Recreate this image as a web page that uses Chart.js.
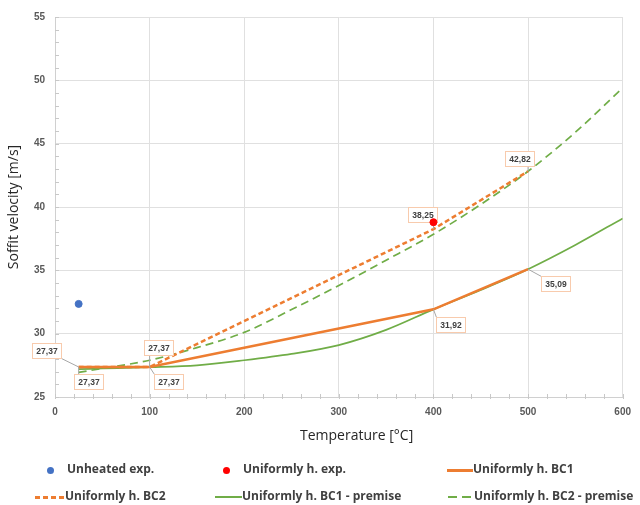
<!DOCTYPE html>
<html>
<head>
<meta charset="utf-8">
<script src="https://cdn.jsdelivr.net/npm/chart.js@4.4.1/dist/chart.umd.min.js"></script>
<style>
  html, body { margin: 0; padding: 0; background: #fff; }
  #wrap { position: relative; width: 640px; height: 505px; overflow: hidden; }
  .lg { position: absolute; font: 700 12px "Open Sans", Arial, sans-serif; color: #404040; white-space: nowrap; line-height: 14px; }
  .mk { position: absolute; }
  #xtitle { position: absolute; left: 300px; top: 426px; font: 14px "Open Sans", sans-serif; color: #262626; white-space: nowrap; line-height: 18px; }
</style>
</head>
<body>
<div id="wrap">
  <canvas id="myChart" width="640" height="505"></canvas>
  <div id="xtitle"></div>
</div>
<script>
// values
const unheatedT = [25];
const unheatedV = [32.35];
const uniformT = [400];
const uniformV = [38.8];
const bcT = [25, 100, 400, 500];
const bc1V = [27.37, 27.37, 31.92, 35.09];
const bc2V = [27.37, 27.37, 38.25, 42.82];
const premiseT = [25, 50, 100, 150, 200, 250, 300, 350, 400, 450, 500, 550, 600];
const bc1PremiseV = [27.2, 27.25, 27.35, 27.5, 27.9, 28.4, 29.1, 30.3, 31.92, 33.45, 35.09, 37.0, 39.1];
const bc2PremiseV = [26.95, 27.25, 27.9, 28.9, 30.1, 31.9, 33.8, 35.8, 37.85, 40.2, 42.82, 45.9, 49.4];
const seriesNames = ['Unheated exp.', 'Uniformly h. exp.', 'Uniformly h. BC1', 'Uniformly h. BC2',
                     'Uniformly h. BC1 - premise', 'Uniformly h. BC2 - premise'];
const xTicks = [0, 100, 200, 300, 400, 500, 600];
const yTicks = [25, 30, 35, 40, 45, 50, 55];
const xTitle = 'Temperature [°C]';
const yTitle = 'Soffit velocity [m/s]';

const ORANGE = '#ed7d31', GREEN = '#70ad47', BLUE = '#4472c4', RED = '#ff0000';

function pts(xs, ys) { return xs.map((x, i) => ({ x: x, y: ys[i] })); }

// value boxes: dataset index, point index, box offset from point
const valueBoxes = [
  { ds: 2, i: 0, dx: -32, dy: -16 },
  { ds: 3, i: 0, dx: 10, dy: 15 },
  { ds: 3, i: 1, dx: 9, dy: -19 },
  { ds: 2, i: 1, dx: 19, dy: 15 },
  { ds: 2, i: 2, dx: 17, dy: 15 },
  { ds: 2, i: 3, dx: 27, dy: 14 },
  { ds: 3, i: 2, dx: -11, dy: -15 },
  { ds: 3, i: 3, dx: -9, dy: -13 }
];

const minorTicks = {
  id: 'minorTicks',
  beforeDatasetsDraw(chart) {
    const ctx = chart.ctx, xs = chart.scales.x, ys = chart.scales.y;
    ctx.save();
    ctx.strokeStyle = '#c8c8c8';
    ctx.lineWidth = 1;
    ctx.beginPath();
    for (let v = ys.min; v <= ys.max; v += 1) {
      const y = Math.round(ys.getPixelForValue(v)) + 0.5;
      ctx.moveTo(xs.left, y); ctx.lineTo(xs.left + 4, y);
    }
    for (let t = xs.min; t <= xs.max; t += 20) {
      const x = Math.round(xs.getPixelForValue(t)) + 0.5;
      ctx.moveTo(x, ys.bottom - 3); ctx.lineTo(x, ys.bottom + 2);
    }
    ctx.stroke();
    ctx.restore();
  }
};

function drawBoxes(chart) {
  const ctx = chart.ctx, xs = chart.scales.x, ys = chart.scales.y;
  ctx.save();
  ctx.font = 'bold 8.5px "Liberation Sans", Arial, sans-serif';
  ctx.textAlign = 'center';
  ctx.textBaseline = 'middle';
  valueBoxes.forEach(b => {
    const p = chart.data.datasets[b.ds].data[b.i];
    const px = xs.getPixelForValue(p.x), py = ys.getPixelForValue(p.y);
    const cx = px + b.dx, cy = py + b.dy;
    const txt = p.y.toFixed(2).replace('.', ',');
    const w = Math.round(ctx.measureText(txt).width) + 8, h = 15;
    const l = Math.round(cx - w / 2) + 0.5, t = Math.round(cy - h / 2) + 0.5;
    const ex = Math.min(Math.max(px, l), l + w), ey = Math.min(Math.max(py, t), t + h);
    ctx.strokeStyle = '#a6a6a6';
    ctx.lineWidth = 1;
    ctx.beginPath(); ctx.moveTo(px, py); ctx.lineTo(ex, ey); ctx.stroke();
    ctx.fillStyle = '#fff';
    ctx.fillRect(l, t, w, h);
    ctx.strokeStyle = '#f8cbad';
    ctx.strokeRect(l, t, w, h);
    ctx.fillStyle = '#404040';
    ctx.fillText(txt, l + w / 2, t + h / 2 + 0.5);
  });
  ctx.restore();
}

// datasets are painted last-to-first, so boxes go in before the two scatter series
const boxPlugin = {
  id: 'valueBoxes',
  afterDatasetDraw(chart, args) {
    if (args.index === 2) drawBoxes(chart);
  }
};

const tickFont = { family: '"Liberation Sans", Arial, sans-serif', size: 10, weight: 'bold' };
const titleFont = { family: '"Open Sans", sans-serif', size: 14 };

const chart = new Chart(document.getElementById('myChart'), {
  type: 'scatter',
  data: {
    datasets: [
      { label: seriesNames[0], data: pts(unheatedT, unheatedV), backgroundColor: BLUE, borderColor: BLUE,
        pointRadius: 3.5, showLine: false },
      { label: seriesNames[1], data: pts(uniformT, uniformV), backgroundColor: RED, borderColor: RED,
        pointRadius: 3.5, showLine: false },
      { label: seriesNames[2], data: pts(bcT, bc1V), borderColor: ORANGE, backgroundColor: ORANGE,
        borderWidth: 2.5, pointRadius: 0, showLine: true, tension: 0 },
      { label: seriesNames[3], data: pts(bcT, bc2V), borderColor: ORANGE, backgroundColor: ORANGE,
        borderWidth: 2.5, borderDash: [5, 3], pointRadius: 0, showLine: true, tension: 0 },
      { label: seriesNames[4], data: pts(premiseT, bc1PremiseV), borderColor: GREEN, backgroundColor: GREEN,
        borderWidth: 1.7, pointRadius: 0, showLine: true, cubicInterpolationMode: 'monotone' },
      { label: seriesNames[5], data: pts(premiseT, bc2PremiseV), borderColor: GREEN, backgroundColor: GREEN,
        borderWidth: 1.7, borderDash: [8, 5], pointRadius: 0, showLine: true, cubicInterpolationMode: 'monotone' }
    ]
  },
  options: {
    responsive: false,
    animation: false,
    devicePixelRatio: 1,
    layout: { padding: { left: 0, right: 15, top: 17, bottom: 58 } },
    plugins: { legend: { display: false }, tooltip: { enabled: false } },
    scales: {
      x: {
        type: 'linear', min: 0, max: 600,
        afterFit: s => { s.height = 50; },
        afterBuildTicks: s => { s.ticks = xTicks.map(v => ({ value: v })); },
        ticks: { font: tickFont, color: '#595959', padding: 9, maxRotation: 0 },
        grid: { color: '#e0e0e0', drawTicks: false },
        border: { color: '#d0d0d0' }
      },
      y: {
        type: 'linear', min: 25, max: 55,
        afterFit: s => { s.width = 55; },
        afterBuildTicks: s => { s.ticks = yTicks.map(v => ({ value: v })); },
        ticks: { font: tickFont, color: '#595959', padding: 10 },
        grid: { color: '#e0e0e0', drawTicks: false },
        border: { color: '#d0d0d0' },
        title: { display: true, text: yTitle, font: titleFont, color: '#262626', padding: { top: 6, bottom: 0 } }
      }
    }
  },
  plugins: [minorTicks, boxPlugin]
});

// x title sits a bit right of centre in the original, so it is placed by hand
document.getElementById('xtitle').textContent = xTitle;

// legend laid out in three columns like the original
const wrap = document.getElementById('wrap');
const legendSpots = [
  { x: 67, y: 470, kind: 'dot' },
  { x: 243, y: 470, kind: 'dot' },
  { x: 473, y: 470, kind: 'line', w: 26 },
  { x: 65, y: 497, kind: 'dash', w: 30, dash: '5px 3px' },
  { x: 242, y: 497, kind: 'line', w: 27 },
  { x: 474, y: 497, kind: 'dash', w: 26, dash: '9px 5px' }
];
chart.data.datasets.forEach((ds, k) => {
  const s = legendSpots[k];
  const mk = document.createElement('div');
  mk.className = 'mk';
  if (s.kind === 'dot') {
    Object.assign(mk.style, { left: (s.x - 20) + 'px', top: (s.y - 3.5) + 'px', width: '7px', height: '7px',
      borderRadius: '50%', background: ds.backgroundColor });
  } else {
    const lw = ds.borderWidth > 2 ? 3 : 2;
    const parts = s.dash ? s.dash.split(' ').map(parseFloat) : null;
    Object.assign(mk.style, { left: (s.x - s.w) + 'px', top: (s.y - lw / 2) + 'px', width: s.w + 'px', height: lw + 'px',
      background: parts ? 'repeating-linear-gradient(to right,' + ds.borderColor + ' 0 ' + parts[0] + 'px, transparent ' +
        parts[0] + 'px ' + (parts[0] + parts[1]) + 'px)' : ds.borderColor });
  }
  wrap.appendChild(mk);
  const tx = document.createElement('div');
  tx.className = 'lg';
  tx.textContent = ds.label;
  tx.style.left = s.x + 'px';
  tx.style.top = (s.y - 8) + 'px';
  wrap.appendChild(tx);
});
</script>
</body>
</html>
